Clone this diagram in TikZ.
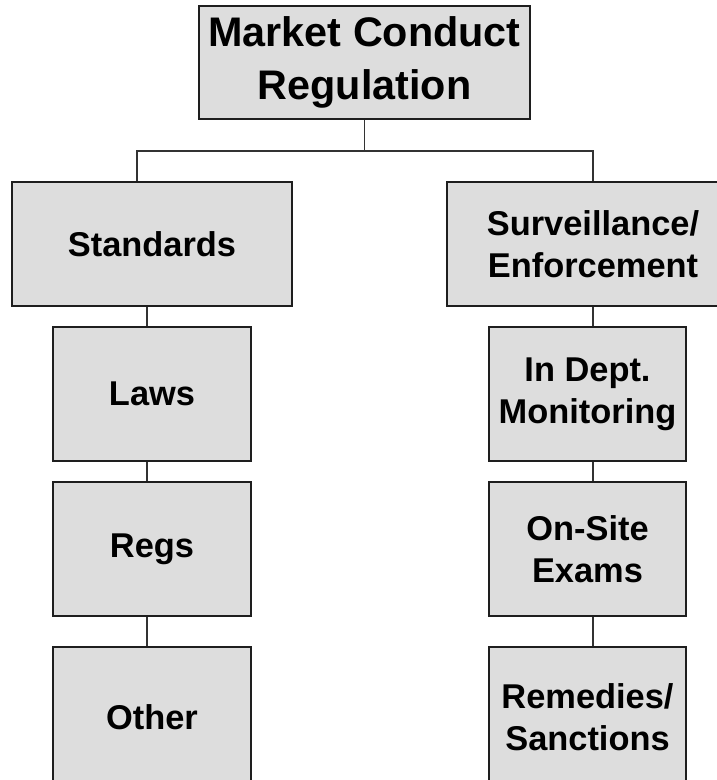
\documentclass[tikz,border=0pt]{standalone}
\usepackage{fontspec}
\setmainfont{Liberation Sans}
\definecolor{boxfill}{HTML}{DDDDDD}
\definecolor{edge}{HTML}{1E1E1E}
\definecolor{conn}{HTML}{333333}
\begin{document}
\begin{tikzpicture}[x=0.75pt,y=-0.75pt,
  box/.style={draw=edge,fill=boxfill,line width=1.1pt,inner sep=0pt,align=center,
    font=\bfseries\fontsize{25.8}{31.5}\selectfont},
  topbox/.style={box,font=\bfseries\fontsize{31}{40}\selectfont},
  link/.style={draw=conn,line width=1.1pt}]
\useasboundingbox (0,0) rectangle (716,780);
\node[topbox,minimum width=331*0.75pt,minimum height=113*0.75pt] (top) at (364.5,62.5) {Market Conduct\\Regulation};
\node[box,minimum width=280*0.75pt,minimum height=124*0.75pt] (std) at (152,244) {Standards};
\node[box,minimum width=292*0.75pt,minimum height=124*0.75pt] (surv) at (593,244) {Surveillance/\\Enforcement};
\node[box,minimum width=198*0.75pt,minimum height=134*0.75pt] (laws) at (152,394) {Laws};
\node[box,minimum width=198*0.75pt,minimum height=134*0.75pt] (regs) at (152,549) {Regs};
\node[box,minimum width=198*0.75pt,minimum height=140*0.75pt] (other) at (152,717) {Other};
\node[box,minimum width=197*0.75pt,minimum height=134*0.75pt] (mon) at (587.5,394) {In Dept.\\Monitoring};
\node[box,minimum width=197*0.75pt,minimum height=134*0.75pt] (exam) at (587.5,549) {On-Site\\Exams};
\node[box,minimum width=197*0.75pt,minimum height=140*0.75pt] (rem) at (587.5,717) {Remedies/\\Sanctions};
\coordinate (bus) at (0,151);
\coordinate (lx) at (137,0);
\coordinate (lx2) at (147,0);
\coordinate (rx) at (593,0);
\draw[link] (top.south) -- (top.south |- bus);
\draw[link] (lx |- std.north) -- (lx |- bus) -- (rx |- bus) -- (rx |- surv.north);
\draw[link] (lx2 |- std.south) -- (lx2 |- laws.north);
\draw[link] (lx2 |- laws.south) -- (lx2 |- regs.north);
\draw[link] (lx2 |- regs.south) -- (lx2 |- other.north);
\draw[link] (rx |- surv.south) -- (rx |- mon.north);
\draw[link] (rx |- mon.south) -- (rx |- exam.north);
\draw[link] (rx |- exam.south) -- (rx |- rem.north);
\end{tikzpicture}
\end{document}
